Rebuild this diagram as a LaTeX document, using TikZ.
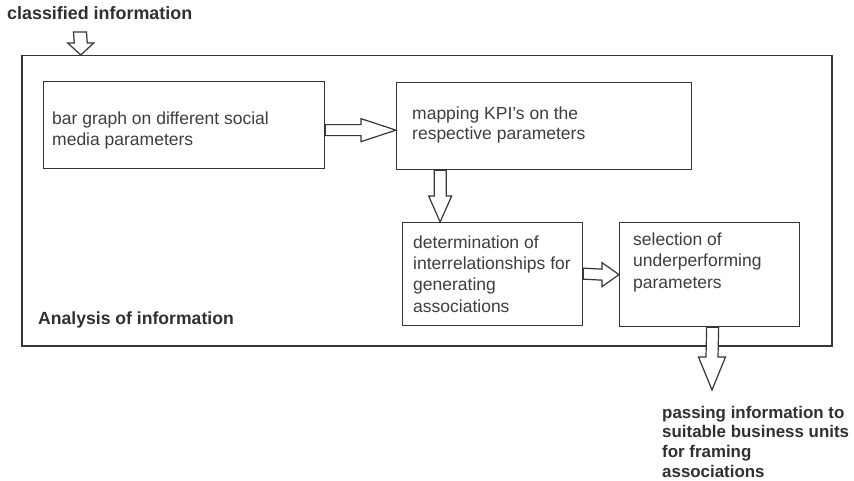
\documentclass[tikz,border=0pt]{standalone}
\usepackage{fontspec}
\setmainfont{Liberation Sans}
\usetikzlibrary{calc}

\definecolor{linegray}{HTML}{363636}
\definecolor{textgray}{HTML}{3E3E3E}
\definecolor{boldgray}{HTML}{303030}

% hollow block arrow pointing right: tail, tip, head length, shaft half width, head half width
\newcommand{\blockarrowright}[5]{%
  \draw[blockarrow] ($(#1)+(0,-#4)$) -- ($(#2)+(-#3,-#4)$) -- ($(#2)+(-#3,-#5)$) -- (#2)
    -- ($(#2)+(-#3,#5)$) -- ($(#2)+(-#3,#4)$) -- ($(#1)+(0,#4)$) -- cycle;}
% hollow block arrow pointing down: tail, tip, head length, shaft half width, head half width
\newcommand{\blockarrowdown}[5]{%
  \draw[blockarrow] ($(#1)+(-#4,0)$) -- ($(#2)+(-#4,-#3)$) -- ($(#2)+(-#5,-#3)$) -- (#2)
    -- ($(#2)+(#5,-#3)$) -- ($(#2)+(#4,-#3)$) -- ($(#1)+(#4,0)$) -- cycle;}

\begin{document}
\begin{tikzpicture}[x=1pt,y=-1pt,
  box/.style={draw=linegray, line width=1.3pt, fill=white, inner sep=0pt, anchor=north west},
  frame/.style={draw=linegray, line width=1.5pt, inner sep=0pt, anchor=north west},
  % multi-line text nodes are placed by the baseline of their last line
  boxtext/.style={anchor=base west, inner sep=0pt, align=left, text=textgray,
    font=\fontsize{17.5}{21.3}\selectfont},
  boldtext/.style={anchor=base west, inner sep=0pt, align=left, text=boldgray,
    font=\fontsize{17.6}{19.6}\selectfont\bfseries},
  blockarrow/.style={draw=linegray, line width=1.2pt, fill=white, line join=miter}]
\useasboundingbox (0,0) rectangle (854,481);
\fill[white] (0,0) rectangle (854,481);

% enclosing frame
\node[frame, minimum width=810pt, minimum height=290pt] (outer) at (21,55) {};
\node[boldtext, font=\fontsize{17.9}{19.6}\selectfont\bfseries] (title) at (7,20) {classified information};
\node[boldtext] (analysis) at (38,324) {Analysis of information};

% process boxes
\node[box, minimum width=281pt, minimum height=87pt] (b1) at (43,81) {};
\node[box, minimum width=295pt, minimum height=87pt] (b2) at (396,82) {};
\node[box, minimum width=180pt, minimum height=103pt] (b3) at (402,222) {};
\node[box, minimum width=180pt, minimum height=104pt] (b4) at (619,222) {};

\node[boxtext, font=\fontsize{17.5}{21}\selectfont] (t1) at (52,146) {bar graph on different social\\media parameters};
\node[boxtext, font=\fontsize{17.5}{20}\selectfont] (t2) at (412,140) {mapping KPI's on the\\respective parameters};
\node[boxtext] (t3) at (413,312) {determination of\\interrelationships for\\generating\\associations};
\node[boxtext, font=\fontsize{17.5}{21.5}\selectfont] (t4) at (633,288) {selection of\\underperforming\\parameters};

\node[boldtext, font=\fontsize{16.9}{19.6}\selectfont\bfseries] (out) at (662,477) {passing information to\\suitable business units\\for framing\\associations};

% connectors
\coordinate (inTail) at (80,32);
\coordinate (outTip) at (712,390);
\blockarrowdown{inTail}{[xshift=-346pt]outer.north}{12}{6.5}{13}
\blockarrowright{[yshift=-5pt]b1.east}{[yshift=-4pt]b2.west}{35}{5.5}{11.5}
\blockarrowdown{[xshift=-104pt]b2.south}{[xshift=-52.5pt]b3.north}{26}{6}{11.5}
\blockarrowright{[yshift=0.5pt]b3.east}{b4.west}{17}{5.5}{12}
\blockarrowdown{[xshift=3pt]b4.south}{outTip}{33}{6}{13.5}
\end{tikzpicture}
\end{document}
